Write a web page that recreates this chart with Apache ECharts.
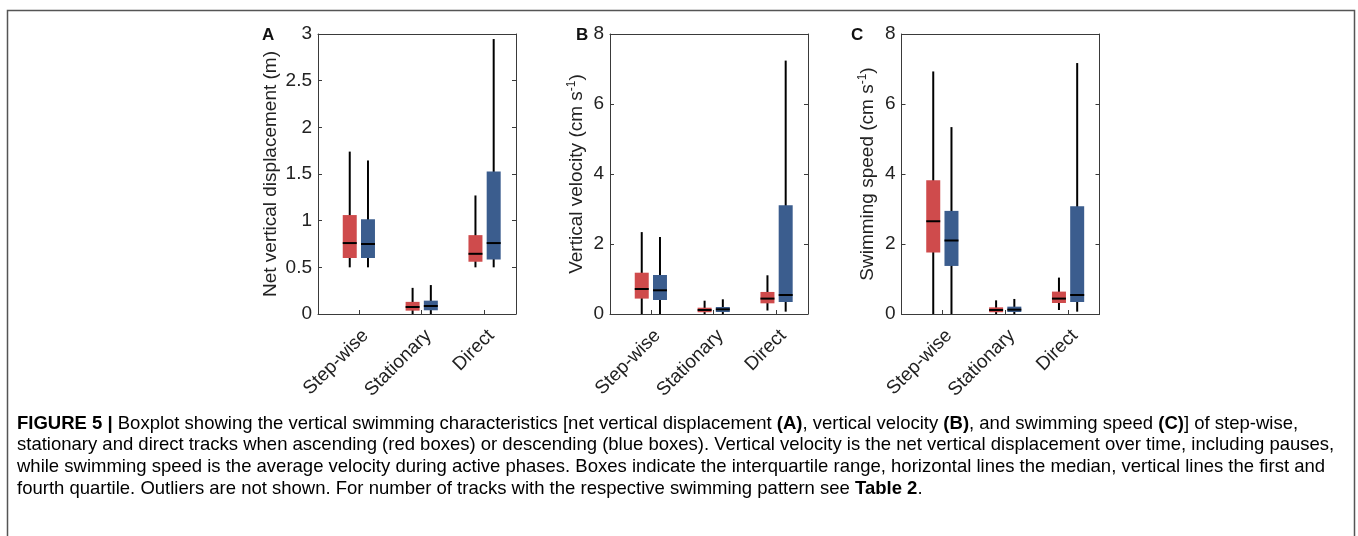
<!DOCTYPE html>
<html><head><meta charset="utf-8">
<script src="https://cdn.jsdelivr.net/npm/echarts@6/dist/echarts.min.js"></script>
<style>html,body{margin:0;padding:0;background:#fff}#c{width:1358px;height:536px}</style>
</head><body><div id="c"></div>
<script>
// Categories (x tick labels)
const categories = ['Step-wise', 'Stationary', 'Direct'];

// Each entry: [lower whisker, Q1, median, Q3, upper whisker]
// Panel A: net vertical displacement (m)
const displacementAscending  = [[0.50, 0.60, 0.76, 1.06, 1.74], [0.00, 0.036, 0.075, 0.13, 0.28], [0.50, 0.56, 0.645, 0.845, 1.27]];
const displacementDescending = [[0.50, 0.60, 0.75, 1.015, 1.645], [0.00, 0.04, 0.086, 0.143, 0.31], [0.50, 0.583, 0.76, 1.527, 2.946]];
// Panel B: vertical velocity (cm s-1)
const velocityAscending  = [[0.00, 0.44, 0.715, 1.18, 2.34], [0.00, 0.05, 0.114, 0.18, 0.38], [0.10, 0.305, 0.44, 0.63, 1.106]];
const velocityDescending = [[0.00, 0.40, 0.677, 1.115, 2.20], [0.00, 0.057, 0.133, 0.20, 0.42], [0.067, 0.343, 0.543, 3.11, 7.24]];
// Panel C: swimming speed (cm s-1)
const speedAscending  = [[0.00, 1.76, 2.65, 3.82, 6.93], [0.00, 0.05, 0.114, 0.19, 0.39], [0.114, 0.315, 0.44, 0.64, 1.04]];
const speedDescending = [[0.00, 1.373, 2.10, 2.946, 5.34], [0.00, 0.057, 0.124, 0.21, 0.43], [0.067, 0.343, 0.543, 3.08, 7.17]];

// y-axis ranges / tick steps
const yMaxA = 3, yStepA = 0.5;
const yMaxBC = 8, yStepBC = 2;

const panelLetters = ['A', 'B', 'C'];
const yTitles = [
  'Net vertical displacement (m)',
  '{t|Vertical velocity (cm s}{s|-1}{t|)}',
  '{t|Swimming speed (cm s}{s|-1}{t|)}'
];

const captionLines = [
  '{b|FIGURE 5 |}{n| Boxplot showing the vertical swimming characteristics [net vertical displacement }{b|(A)}{n|, vertical velocity }{b|(B)}{n|, and swimming speed }{b|(C)}{n|] of step-wise,}',
  '{n|stationary and direct tracks when ascending (red boxes) or descending (blue boxes). Vertical velocity is the net vertical displacement over time, including pauses,}',
  '{n|while swimming speed is the average velocity during active phases. Boxes indicate the interquartile range, horizontal lines the median, vertical lines the first and}',
  '{n|fourth quartile. Outliers are not shown. For number of tracks with the respective swimming pattern see }{b|Table 2}{n|.}'
];

const FONT = "'Liberation Sans', Arial, Helvetica, sans-serif";
const RED = '#cf4b4c';
const BLUE = '#3b5d8e';
const AXIS = '#3a3a3a';
const BOX_W = 14;
const OFFSET = 0.145;

const gridLefts = [318, 610, 901.5];
const GRID_W = 198, GRID_TOP = 34, GRID_H = 280;
const nameGaps = [38, 22, 23];

const grids = gridLefts.map(l => ({ left: l, top: GRID_TOP, width: GRID_W, height: GRID_H }));

const xAxes = [];
const yAxes = [];
for (let i = 0; i < 3; i++) {
  xAxes.push({
    type: 'value', gridIndex: i, min: 0.35, max: 3.5, position: 'bottom',
    splitLine: { show: false },
    axisLine: { show: true, onZero: false, lineStyle: { color: AXIS, width: 1 } },
    axisTick: { show: true, inside: true, length: 4, customValues: [1, 2, 3], lineStyle: { color: AXIS } },
    axisLabel: {
      show: true, customValues: [1, 2, 3], rotate: 45, margin: 12,
      align: 'right', verticalAlign: 'top',
      formatter: v => categories[Math.round(v) - 1] || '',
      fontFamily: FONT, fontSize: 19, color: '#222'
    }
  });
}
for (let i = 0; i < 3; i++) {
  xAxes.push({
    type: 'value', gridIndex: i, min: 0.35, max: 3.5, position: 'top',
    splitLine: { show: false },
    axisLine: { show: true, onZero: false, lineStyle: { color: AXIS, width: 1 } },
    axisTick: { show: false }, axisLabel: { show: false }
  });
}
for (let i = 0; i < 3; i++) {
  const isA = i === 0;
  yAxes.push({
    type: 'value', gridIndex: i, min: 0, max: isA ? yMaxA : yMaxBC, interval: isA ? yStepA : yStepBC,
    position: 'left',
    name: yTitles[i], nameLocation: 'middle', nameGap: nameGaps[i],
    nameTextStyle: {
      fontFamily: FONT, fontSize: 19, color: '#222',
      rich: {
        t: { fontFamily: FONT, fontSize: 19, color: '#222' },
        s: { fontFamily: FONT, fontSize: 12, color: '#222', verticalAlign: 'top', padding: [0, 0, 10, 0] }
      }
    },
    splitLine: { show: false },
    axisLine: { show: true, onZero: false, lineStyle: { color: AXIS, width: 1 } },
    axisTick: { show: true, inside: true, length: 4, lineStyle: { color: AXIS } },
    axisLabel: { fontFamily: FONT, fontSize: 19, color: '#222', margin: 6 }
  });
}
for (let i = 0; i < 3; i++) {
  const isA = i === 0;
  yAxes.push({
    type: 'value', gridIndex: i, min: 0, max: isA ? yMaxA : yMaxBC, interval: isA ? yStepA : yStepBC,
    position: 'right',
    splitLine: { show: false },
    axisLine: { show: true, onZero: false, lineStyle: { color: AXIS, width: 1 } },
    axisTick: { show: true, inside: true, length: 4, lineStyle: { color: AXIS } },
    axisLabel: { show: false }
  });
}

function makeRender(offset, color) {
  return function (params, api) {
    const x = api.value(0) + offset;
    const lo = api.coord([x, api.value(1)]);
    const q1 = api.coord([x, api.value(2)]);
    const md = api.coord([x, api.value(3)]);
    const q3 = api.coord([x, api.value(4)]);
    const hi = api.coord([x, api.value(5)]);
    const w = BOX_W;
    return {
      type: 'group',
      children: [
        { type: 'line', shape: { x1: lo[0], y1: lo[1], x2: hi[0], y2: hi[1] }, style: { stroke: '#000', lineWidth: 2 } },
        { type: 'rect', shape: { x: q3[0] - w / 2, y: q3[1], width: w, height: q1[1] - q3[1] }, style: { fill: color, stroke: null } },
        { type: 'line', shape: { x1: md[0] - w / 2, y1: md[1], x2: md[0] + w / 2, y2: md[1] }, style: { stroke: '#000', lineWidth: 2 } }
      ]
    };
  };
}

const panels = [
  [displacementAscending, displacementDescending],
  [velocityAscending, velocityDescending],
  [speedAscending, speedDescending]
];

const series = [];
panels.forEach((pair, i) => {
  [[pair[0], -OFFSET, RED], [pair[1], OFFSET, BLUE]].forEach(([vals, off, col]) => {
    series.push({
      type: 'custom', xAxisIndex: i, yAxisIndex: i, clip: false,
      renderItem: makeRender(off, col),
      encode: { x: 0, y: [1, 2, 3, 4, 5] },
      data: vals.map((v, k) => [k + 1].concat(v)),
      silent: true
    });
  });
});

const graphics = [
  { type: 'rect', shape: { x: 7.5, y: 10.5, width: 1347, height: 600 }, style: { fill: null, stroke: '#555', lineWidth: 1.5 }, silent: true }
];
const letterX = [262, 576, 851];
panelLetters.forEach((L, i) => {
  graphics.push({ type: 'text', left: letterX[i], top: 27, style: { text: L, font: "bold 17px " + FONT, fill: '#111' } });
});
captionLines.forEach((line, i) => {
  graphics.push({
    type: 'text', left: 17, top: 414 + i * 21.7,
    style: {
      text: line,
      rich: {
        n: { fontFamily: FONT, fontSize: 18.5, color: '#444' },
        b: { fontFamily: FONT, fontSize: 18.5, fontWeight: 'bold', color: '#333' }
      }
    }
  });
});

const chart = echarts.init(document.getElementById('c'), null, { renderer: 'canvas' });
chart.setOption({
  animation: false,
  backgroundColor: '#fff',
  grid: grids,
  xAxis: xAxes,
  yAxis: yAxes,
  series: series,
  graphic: graphics
});
</script>
</body></html>
